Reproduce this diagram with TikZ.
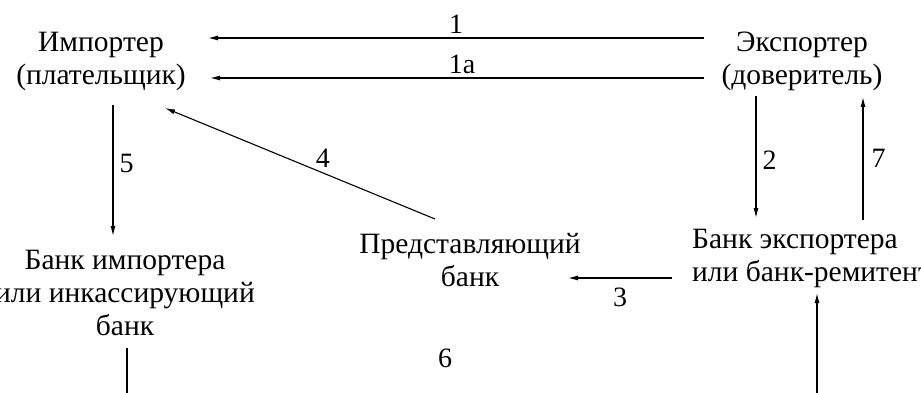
\documentclass[tikz,border=0pt]{standalone}
\usepackage{fontspec}
\setmainfont{Liberation Serif}
\usetikzlibrary{arrows.meta,positioning}

\tikzset{
  lbl/.style={font=\fontsize{29.5}{33}\selectfont, inner sep=0pt, align=center, anchor=base},
  num/.style={font=\fontsize{28}{30}\selectfont, inner sep=0pt},
  arr/.style={-{Latex[length=10pt,width=5pt]}, line width=1.1pt},
  seg/.style={line width=1.1pt},
}

\begin{document}
\begin{tikzpicture}[x=1pt,y=-1pt]
  \useasboundingbox (0,0) rectangle (921,393);

  % participants (anchored at the last baseline)
  \node[lbl] (imp) at (101,85) {Импортер\\(плательщик)};
  \node[lbl] (exp) at (802,85) {Экспортер\\(доверитель)};
  \node[lbl] (ibank) at (125,335) {Банк импортера\\или инкассирующий\\банк};
  \node[lbl] (pbank) at (470,286) {Представляющий\\банк};
  \node[lbl, align=left, anchor=base west] (ebank) at (692,281) {Банк экспортера\\или банк-ремитент};

  % arrow ends
  \coordinate (e1s) at (704,38);  \coordinate (e1t) at (208,38);
  \coordinate (e1as) at (704,78); \coordinate (e1at) at (210,78);
  \coordinate (e5s) at (113,105); \coordinate (e5t) at (113,236);
  \coordinate (e4s) at (435,219); \coordinate (e4t) at (165,108);
  \coordinate (e2s) at (756,96);  \coordinate (e2t) at (756,218);
  \coordinate (e7s) at (863,220); \coordinate (e7t) at (863,97);
  \coordinate (e3s) at (672,278); \coordinate (e3t) at (568,278);
  \coordinate (e6s) at (127,348); \coordinate (e6b) at (127,393);
  \coordinate (e6c) at (817,393); \coordinate (e6t) at (817,293);

  % flows
  \draw[arr] (e1s) -- node[num, above=4pt] {1} (e1t);
  \draw[arr] (e1as) -- node[num, above=4pt, xshift=5pt] {1a} (e1at);
  \draw[arr] (e5s) -- node[num, right=6pt, pos=0.45] {5} (e5t);
  \draw[arr] (e4s) -- node[num, above=5pt, pos=0.415] {4} (e4t);
  \draw[arr] (e2s) -- node[num, right=6pt, pos=0.53] {2} (e2t);
  \draw[arr] (e7s) -- node[num, right=8pt] {7} (e7t);
  \draw[arr] (e3s) -- node[num, below=9pt] {3} (e3t);
  \draw[seg] (e6s) -- (e6b);
  \draw[arr] (e6c) -- (e6t);
  \node[num] (n6) at (445,358) {6};
\end{tikzpicture}
\end{document}
